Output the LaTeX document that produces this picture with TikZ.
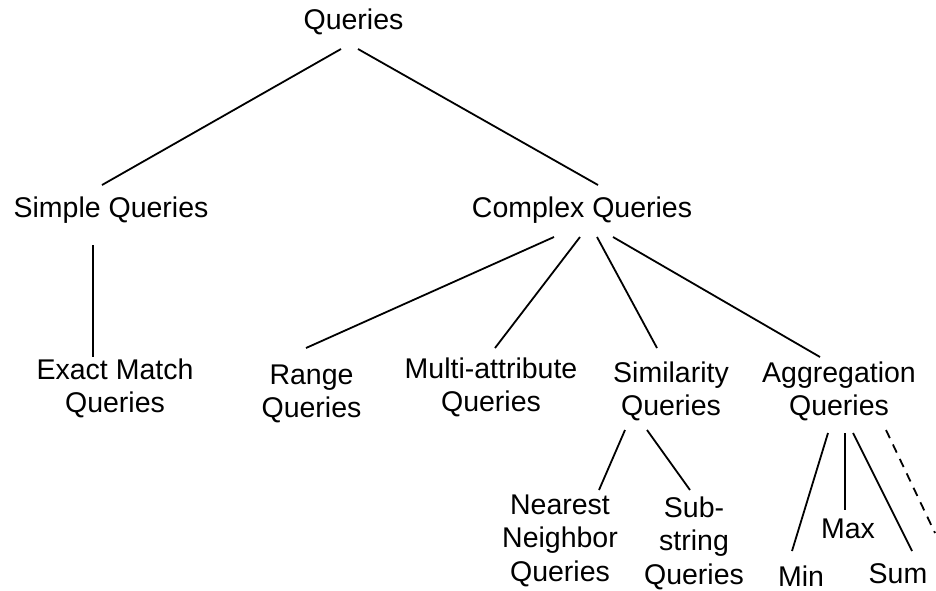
\documentclass[tikz,border=0pt]{standalone}
\usepackage{fontspec}
\setmainfont{Liberation Sans}
% centred multi-line label whose baseline is that of its first line
\newcommand\lbllines[1]{\begin{tabular}[t]{@{}c@{}}#1\end{tabular}}
\begin{document}
\begin{tikzpicture}[x=1pt,y=-1pt]
\tikzset{
  lbl/.style={anchor=base, inner sep=0pt, outer sep=0pt,
              font=\fontsize{28.5}{33.5}\selectfont},
  branch/.style={line width=1.8pt, line cap=butt},
  further/.style={branch, dash pattern=on 9pt off 7pt}
}
\useasboundingbox (0,0) rectangle (936,590);

% query classes
\node[lbl] (q)   at (353.5,29) {Queries};
\node[lbl] (sq)  at (111,217)  {Simple Queries};
\node[lbl] (cq)  at (582,217)  {Complex Queries};
\node[lbl] (em)  at (115,379)  {\lbllines{Exact Match\\Queries}};
\node[lbl] (rq)  at (311.5,384){\lbllines{Range\\Queries}};
\node[lbl] (ma)  at (491,378)  {\lbllines{Multi-attribute\\Queries}};
\node[lbl] (sim) at (671,382)  {\lbllines{Similarity\\Queries}};
\node[lbl] (agg) at (839,382)  {\lbllines{Aggregation\\Queries}};
\node[lbl] (nn)  at (560,514)  {\lbllines{Nearest\\Neighbor\\Queries}};
\node[lbl] (ss)  at (694,517)  {\lbllines{Sub-\\string\\Queries}};
\node[lbl] (mx)  at (848,538)  {Max};
\node[lbl] (mn)  at (801,586)  {Min};
\node[lbl] (sm)  at (898,583)  {Sum};
\coordinate (etc) at (935,533);

% hierarchy
\draw[branch] ([shift={(-12.5,20)}]q.base) -- ([shift={(-9,-32)}]sq.base);
\draw[branch] ([shift={(4.5,20)}]q.base)   -- ([shift={(16,-32)}]cq.base);
\draw[branch] ([shift={(-18,28)}]sq.base)  -- ([shift={(-22,-22)}]em.base);
\draw[branch] ([shift={(-28,20)}]cq.base)  -- ([shift={(-5.5,-36)}]rq.base);
\draw[branch] ([shift={(-2,20)}]cq.base)   -- ([shift={(4,-30)}]ma.base);
\draw[branch] ([shift={(15,20)}]cq.base)   -- ([shift={(-14,-34)}]sim.base);
\draw[branch] ([shift={(31,20)}]cq.base)   -- ([shift={(-19,-25)}]agg.base);
\draw[branch] ([shift={(-46,48)}]sim.base) -- ([shift={(39,-24)}]nn.base);
\draw[branch] ([shift={(-24,48)}]sim.base) -- ([shift={(-4,-27)}]ss.base);
\draw[branch] ([shift={(-11,51)}]agg.base) -- ([shift={(-9,-35)}]mn.base);
\draw[branch] ([shift={(6,51)}]agg.base)   -- ([shift={(-3,-28)}]mx.base);
\draw[branch] ([shift={(14,51)}]agg.base)  -- ([shift={(14,-32)}]sm.base);
\draw[further] ([shift={(47,48)}]agg.base) -- (etc);
\end{tikzpicture}
\end{document}
